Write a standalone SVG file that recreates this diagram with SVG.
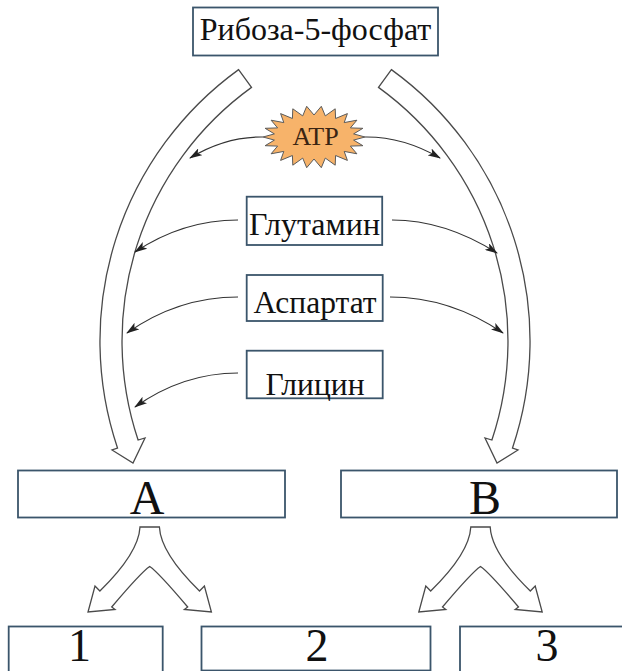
<svg xmlns="http://www.w3.org/2000/svg" width="622" height="671" viewBox="0 0 622 671">
  <style>
    .box { fill: #ffffff; stroke: #3b556b; stroke-width: 1.8; }
    .lbl { fill: #111111; text-anchor: middle; }
    .big { fill: #ffffff; stroke: #4a4a4a; stroke-width: 1.3; stroke-linejoin: miter; }
    .thin { fill: none; stroke: #333333; stroke-width: 1.2; }
  </style>
  <defs>
    <marker id="tip" viewBox="0 0 13 8" refX="12" refY="4" markerWidth="13" markerHeight="8" markerUnits="userSpaceOnUse" orient="auto">
      <path d="M0,0 L13,4 L0,8 L3,4 Z" fill="#222222"/>
    </marker>
    <!-- wide hollow arc arrow (left side); mirrored for the right side -->
    <path id="arcArrow" d="M238.6,69.6 A335,335 0 0 0 117.5,448 L112,450 L133,463 L145,438 L138.1,440 A313,313 0 0 1 251.5,87.4 Z"/>
    <!-- hollow forked arrow, stem centred at x=149.7 -->
    <path id="fork" d="M140,527 L159.4,527 C160.5,548 178,570 199.5,591 L204.4,586 L211.4,612 L184.4,609.5 L187.7,607 C175,592 158,572 149.7,566.5 C141.4,572 124.4,592 111.7,607 L115,609.5 L88,612 L95,586 L99.9,591 C121.4,570 138.9,548 140,527 Z"/>
  </defs>

  <rect width="622" height="671" fill="#ffffff"/>

  <!-- connectors -->
  <g id="connectors">
    <use href="#arcArrow" class="big"/>
    <use href="#arcArrow" class="big" transform="translate(630,0) scale(-1,1)"/>
    <use href="#fork" class="big"/>
    <use href="#fork" class="big" transform="translate(330.8,0)"/>

    <path class="thin" d="M263,137 Q225.5,136.5 190,158" marker-end="url(#tip)"/>
    <path class="thin" d="M365,137 Q403,136.5 440,158" marker-end="url(#tip)"/>
    <path class="thin" d="M238,220 Q183,220 135,252" marker-end="url(#tip)"/>
    <path class="thin" d="M392,220 Q445,220 497,253" marker-end="url(#tip)"/>
    <path class="thin" d="M238,297 Q178,297 127,333" marker-end="url(#tip)"/>
    <path class="thin" d="M390,297 Q450,297 503,333" marker-end="url(#tip)"/>
    <path class="thin" d="M238,373 Q183,373 135,407" marker-end="url(#tip)"/>
  </g>

  <g id="ribose" font-family="'Liberation Serif', 'DejaVu Serif', serif">
    <rect class="box" x="193" y="7.5" width="245" height="48"/>
    <text class="lbl" x="315.5" y="40" font-size="32">Рибоза-5-фосфат</text>
  </g>

  <g id="atp" font-family="'Liberation Serif', 'DejaVu Serif', serif">
    <polygon fill="#f7b36a" stroke="#5a5a5a" stroke-width="1" points="365,137 353.6,140.1 362.9,145.7 350.4,146.1 356.9,153.8 344.2,151.4 347.4,160.4 335.6,155.5 335.2,165.2 325.3,158.1 321.3,167.7 314,159 306.7,167.7 302.7,158.1 292.8,165.2 292.4,155.5 280.6,160.4 283.8,151.4 271.1,153.8 277.6,146.1 265.1,145.7 274.4,140.1 263,137 274.4,133.9 265.1,128.3 277.6,127.9 271.1,120.2 283.8,122.6 280.6,113.6 292.4,118.5 292.8,108.8 302.7,115.9 306.7,106.3 314,115 321.3,106.3 325.3,115.9 335.2,108.8 335.6,118.5 347.4,113.6 344.2,122.6 356.9,120.2 350.4,127.9 362.9,128.3 353.6,133.9"/>
    <text x="315.5" y="145" font-size="26" text-anchor="middle" fill="#3a2412">ATP</text>
  </g>

  <g id="glutamine" font-family="'Liberation Serif', 'DejaVu Serif', serif">
    <rect class="box" x="246.7" y="196.7" width="135.5" height="48.3"/>
    <text class="lbl" x="314.5" y="235" font-size="32">Глутамин</text>
  </g>

  <g id="aspartate" font-family="'Liberation Serif', 'DejaVu Serif', serif">
    <rect class="box" x="246.7" y="275" width="136" height="46"/>
    <text class="lbl" x="315" y="313" font-size="31.5">Аспартат</text>
  </g>

  <g id="glycine" font-family="'Liberation Serif', 'DejaVu Serif', serif">
    <rect class="box" x="246.7" y="350.7" width="136" height="47.6"/>
    <text class="lbl" x="315" y="395" font-size="31.5">Глицин</text>
  </g>

  <g id="nodeA" font-family="'Liberation Serif', 'DejaVu Serif', serif">
    <rect class="box" x="18" y="470.5" width="267" height="47"/>
    <text class="lbl" x="147" y="514" font-size="48">A</text>
  </g>

  <g id="nodeB" font-family="'Liberation Serif', 'DejaVu Serif', serif">
    <rect class="box" x="341" y="470.5" width="276" height="47"/>
    <text class="lbl" x="485" y="514" font-size="48">B</text>
  </g>

  <g id="node1" font-family="'Liberation Serif', 'DejaVu Serif', serif">
    <rect class="box" x="8.7" y="626.5" width="154" height="46"/>
    <text class="lbl" x="79.5" y="661" font-size="46">1</text>
  </g>

  <g id="node2" font-family="'Liberation Serif', 'DejaVu Serif', serif">
    <rect class="box" x="201.5" y="626.5" width="229" height="44"/>
    <text class="lbl" x="317" y="661" font-size="46">2</text>
  </g>

  <g id="node3" font-family="'Liberation Serif', 'DejaVu Serif', serif">
    <rect class="box" x="460" y="626.5" width="170" height="46"/>
    <text class="lbl" x="547" y="661" font-size="46">3</text>
  </g>
</svg>
